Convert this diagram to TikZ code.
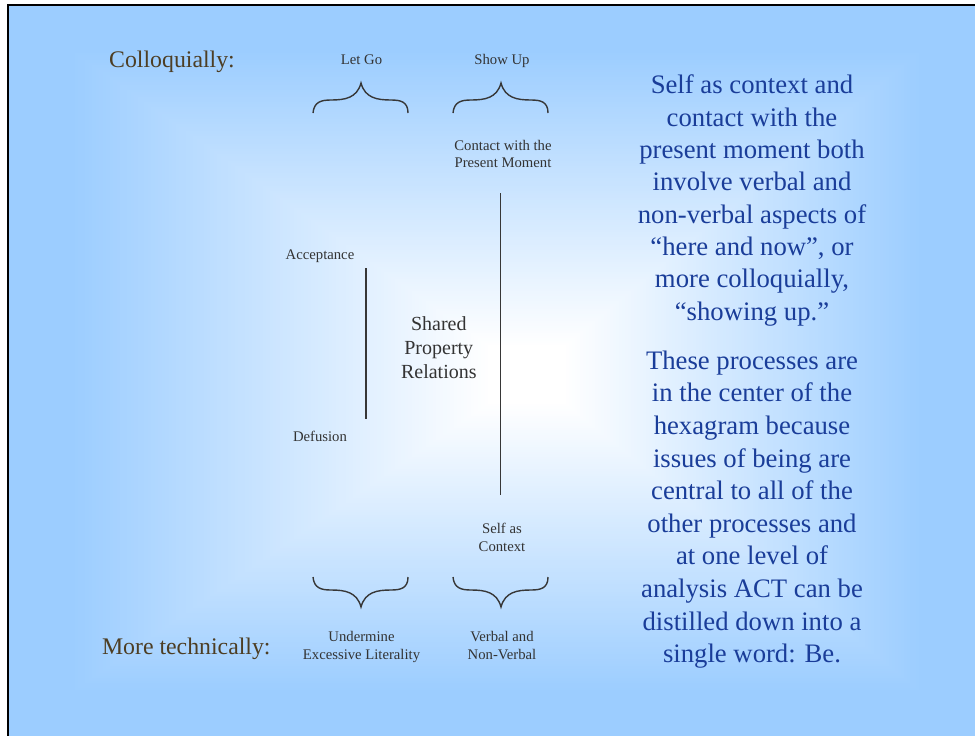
\documentclass[tikz,border=0pt]{standalone}
\usepackage{fontspec}
\setmainfont{Liberation Serif}
\definecolor{bgblue}{RGB}{156,205,255}
\definecolor{txtblue}{RGB}{26,61,153}
\definecolor{labbrown}{RGB}{77,62,36}
\definecolor{inkgray}{RGB}{51,51,51}
\definecolor{linegray}{RGB}{55,55,55}
\tikzset{
  small/.style={font=\fontsize{14.7}{17.7}\selectfont, text=inkgray, align=center, inner sep=0pt, anchor=base},
  side/.style={font=\fontsize{23.8}{28}\selectfont, text=labbrown, inner sep=0pt, anchor=base},
  mid/.style={font=\fontsize{20}{23.8}\selectfont, text=inkgray, align=center, inner sep=0pt, anchor=base},
  para/.style={font=\fontsize{26.7}{32.5}\selectfont, text=txtblue, align=center, inner sep=0pt, anchor=base},
  bracestyle/.style={draw=linegray, line width=1.4pt},
  vline/.style={draw=linegray, line width=1.4pt},
  frameline/.style={draw=black, line width=2.2pt},
  upbrace/.pic={
    \draw[bracestyle] (-48,30) .. controls (-47,19) and (-40,17) .. (-30,17)
      .. controls (-16,17) and (-4,15) .. (0,0)
      .. controls (4,15) and (16,17) .. (30,17)
      .. controls (40,17) and (47,19) .. (47,30);
  }
}
\begin{document}
\begin{tikzpicture}[x=1pt,y=-1pt]
\useasboundingbox (0,0) rectangle (975,736);
% background: rectangular gradient
\fill[bgblue] (9,6) rectangle (975,736);
\foreach \i in {150,149,...,1}{
  \pgfmathsetmacro\s{\i/150}
  \pgfmathsetmacro\p{min(100,max(0,100*(\s-0.08)/0.8))}
  \fill[bgblue!\p!white] ({530-\s*521},{375-\s*369}) rectangle ({530+\s*445},{375+\s*361});
}
% frame
\draw[frameline] (7,5) -- (975,5);
\draw[frameline] (8.3,4) -- (8.3,736);

% side labels
\node[side] (coll) at (172,67.3) {Colloquially:};
\node[side] (tech) at (186.3,654.3) {More technically:};

% top labels (anchor base = last line)
\node[small] (letgo) at (361.5,64) {Let Go};
\node[small] (showup) at (502,64) {Show Up};
\node[small] (contact) at (503,167.7) {Contact with the\\Present Moment};

% braces
\pic at (361,83) {upbrace};
\pic at (501,83) {upbrace};
\pic[yscale=-1] at (361,607) {upbrace};
\pic[yscale=-1] at (501,607) {upbrace};

% middle
\node[small] (accept) at (320,259.3) {Acceptance};
\node[small] (defus) at (320,441.7) {Defusion};
\node[mid] (shared) at (438.8,378.3) {Shared\\Property\\Relations};
\node[small] (selfctx) at (502,551) {Self as\\Context};

\coordinate (sTop) at (366,268);
\coordinate (sBot) at (366,419);
\draw[vline] (sTop) -- (sBot);
\coordinate (lTop) at (500.5,193);
\coordinate (lBot) at (500.5,495);
\draw[vline] (lTop) -- (lBot);

% bottom labels
\node[small] (underm) at (361.5,659.3) {Undermine\\Excessive Literality};
\node[small] (verbal) at (502,659.3) {Verbal and\\Non-Verbal};

% right paragraphs
\node[para, font=\fontsize{26.7}{32.3}\selectfont] (p1) at (752,320) {Self as context and\\contact with the\\present moment both\\involve verbal and\\non-verbal aspects of\\“here and now”, or\\more colloquially,\\“showing up.”};
\node[para, font=\fontsize{26.7}{32.6}\selectfont] (p2) at (752,662.7) {These processes are\\in the center of the\\hexagram because\\issues of being are\\central to all of the\\other processes and\\at one level of\\analysis ACT can be\\distilled down into a\\single word: Be.};
\end{tikzpicture}
\end{document}
